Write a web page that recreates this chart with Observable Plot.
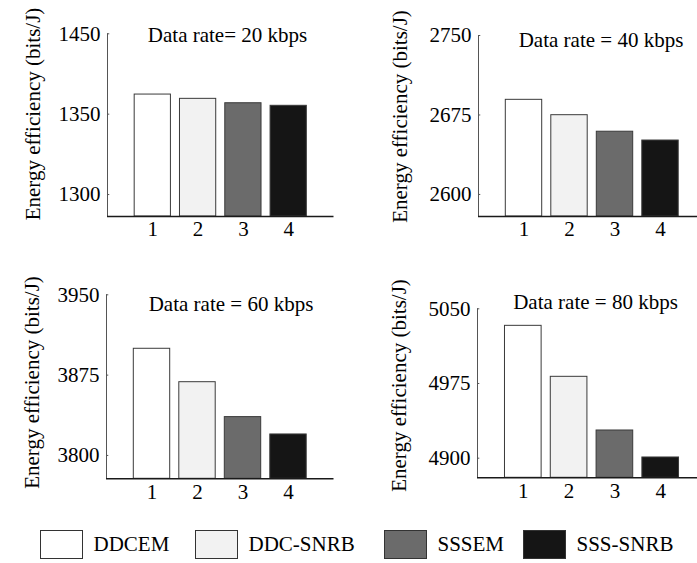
<!DOCTYPE html>
<html>
<head>
<meta charset="utf-8">
<script src="https://cdn.jsdelivr.net/npm/d3@7"></script>
<script src="https://cdn.jsdelivr.net/npm/@observablehq/plot@0.6"></script>
<style>
html, body { margin: 0; padding: 0; background: #fff; overflow: hidden; }
#root { position: relative; width: 697px; height: 563px; overflow: hidden;
        font-family: 'Liberation Serif', 'Times New Roman', serif; color: #000; }
.panel { position: absolute; width: 349px; height: 255px; }
.legend-item { position: absolute; top: 530px; height: 29px; display: flex; align-items: center;
               font-size: 21px; white-space: nowrap; font-family: 'Liberation Serif', serif; }
.swatch { width: 43px; height: 29px; box-sizing: border-box; border: 1px solid #333; margin-right: 10.5px; }
.panel svg, .panel svg text { font-family: 'Liberation Serif', serif !important; }
</style>
</head>
<body>
<div id="root"></div>
<script>
// ---------- data ----------
const categories = [1, 2, 3, 4];
const seriesNames = ["DDCEM", "DDC-SNRB", "SSSEM", "SSS-SNRB"];
const seriesColors = ["#ffffff", "#f2f2f2", "#6b6b6b", "#151515"];
const panelTitles = ["Data rate= 20 kbps", "Data rate = 40 kbps", "Data rate = 60 kbps", "Data rate = 80 kbps"];
const yAxisLabel = "Energy efficiency (bits/J)";

const values20 = [1393.3, 1389.3, 1385.2, 1382.8];
const values40 = [2689.3, 2674.8, 2659.2, 2650.9];
const values60 = [3899.6, 3868.4, 3835.8, 3819.6];
const values80 = [5032.9, 4981.7, 4927.8, 4900.7];

const yTicks20 = [1300, 1375, 1450];
const yTickLabels20 = ["1300", "1350", "1450"];
const yTicks40 = [2600, 2675, 2750];
const yTickLabels40 = ["2600", "2675", "2750"];
const yTicks60 = [3800, 3875, 3950];
const yTickLabels60 = ["3800", "3875", "3950"];
const yTicks80 = [4900, 4975, 5050];
const yTickLabels80 = ["4900", "4975", "5050"];

const yDomain20 = [1279.5, 1450];
const yDomain40 = [2579.2, 2750];
const yDomain60 = [3778.2, 3950];
const yDomain80 = [4880.3, 5050];

// ---------- layout (pixels) ----------
const W = 349, H = 255;
const FONT = "'Liberation Serif', 'Times New Roman', serif";
const layout = [
  {left: 0,   top: 0,   mL: 107, mR: 15.5, mT: 33.3, mB: 39,   title: [227, 26.3],   ylab: [25, 113.5]},
  {left: 348, top: 0,   mL: 130, mR: -8.5, mT: 35,   mB: 39,   title: [252.5, 31.6], ylab: [43.3, 116]},
  {left: 0,   top: 260, mL: 106, mR: 15.5, mT: 34.3, mB: 36.7, title: [230.5, 35.6], ylab: [24, 122]},
  {left: 348, top: 260, mL: 129, mR: -9,   mT: 48.3, mB: 37.7, title: [247, 33.3],   ylab: [42.5, 125]}
];

const panelValues = [values20, values40, values60, values80];
const panelTicks = [yTicks20, yTicks40, yTicks60, yTicks80];
const panelTickLabels = [yTickLabels20, yTickLabels40, yTickLabels60, yTickLabels80];
const panelDomains = [yDomain20, yDomain40, yDomain60, yDomain80];

const root = document.getElementById("root");

panelValues.forEach((vals, p) => {
  const L = layout[p];
  const yDomain = panelDomains[p];
  const ticks = panelTicks[p];
  const labelMap = new Map(ticks.map((t, i) => [t, panelTickLabels[p][i]]));
  const rows = categories.map((c, i) => ({cat: c, value: vals[i], color: seriesColors[i]}));

  const chart = Plot.plot({
    width: W, height: H,
    marginLeft: L.mL, marginRight: L.mR, marginTop: L.mT, marginBottom: L.mB,
    style: `font-family: ${FONT}; font-size: 21px; background: transparent; color: #000; overflow: visible;`,
    x: {domain: [0, 5]},
    y: {domain: yDomain},
    color: {type: "identity"},
    marks: [
      Plot.rect(rows, {
        x1: d => d.cat - 0.4, x2: d => d.cat + 0.4,
        y1: () => yDomain[0], y2: "value",
        fill: "color", stroke: "#3a3a3a", strokeWidth: 1
      }),
      Plot.ruleX([0], {stroke: "#555", strokeWidth: 1}),
      Plot.ruleY(ticks, {x1: () => 0, x2: () => 0.05, stroke: "#555"}),
      Plot.ruleY([yDomain[0]], {stroke: "#1a1a1a", strokeWidth: 1.5}),
      Plot.axisY({ticks, tickFormat: d => labelMap.get(d), tickSize: 0, tickPadding: 7, label: null,
                  fontFamily: FONT, fontSize: 21}),
      Plot.axisX({ticks: categories, tickFormat: d => String(d), tickSize: 0, tickPadding: 5, label: null,
                  fontFamily: FONT, fontSize: 21}),
      Plot.text([panelTitles[p]], {
        frameAnchor: "top-left", text: d => d, textAnchor: "middle",
        dx: L.title[0] - L.mL, dy: L.title[1] - L.mT, fontSize: 21, fontFamily: FONT, fill: "#000"
      }),
      Plot.text([yAxisLabel], {
        frameAnchor: "top-left", text: d => d, textAnchor: "middle", rotate: -90,
        dx: L.ylab[0] - L.mL, dy: L.ylab[1] - L.mT, fontSize: 21, fontFamily: FONT, fill: "#000"
      })
    ]
  });

  const div = document.createElement("div");
  div.className = "panel";
  div.style.left = L.left + "px";
  div.style.top = L.top + "px";
  div.appendChild(chart);
  root.appendChild(div);
});

// ---------- legend ----------
const legendLefts = [40, 195, 384, 523];
seriesNames.forEach((name, i) => {
  const item = document.createElement("div");
  item.className = "legend-item";
  item.style.left = legendLefts[i] + "px";
  const sw = document.createElement("div");
  sw.className = "swatch";
  sw.style.background = seriesColors[i];
  const t = document.createElement("span");
  t.textContent = name;
  item.appendChild(sw);
  item.appendChild(t);
  root.appendChild(item);
});
</script>
</body>
</html>
